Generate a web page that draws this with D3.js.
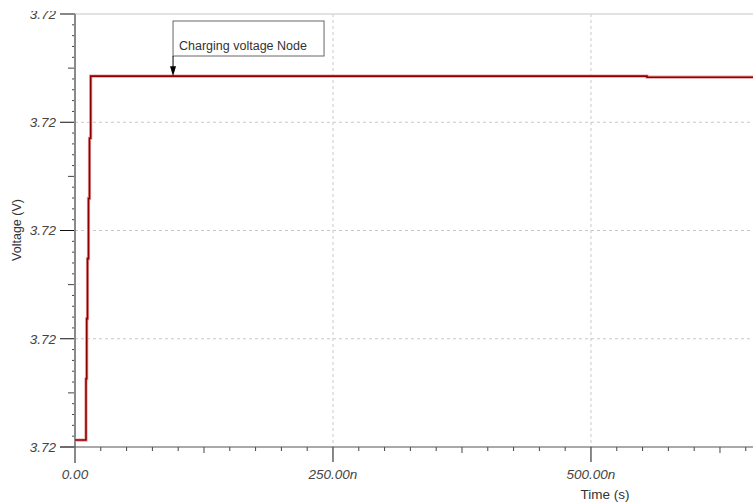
<!DOCTYPE html>
<html><head><meta charset="utf-8">
<script src="https://cdn.jsdelivr.net/npm/d3@7/dist/d3.min.js"></script>
<style>
html,body{margin:0;padding:0;background:#fff;overflow:hidden}
svg{display:block;font-family:"Liberation Sans",Arial,sans-serif}
</style></head><body>
<svg id="c" width="753" height="504"></svg>
<script>
// Data: time in ns, voltage in V
const timeNs   = [0, 10.66, 11.34, 12.11, 13.08, 14.05, 15.21, 554.3, 657];
const voltageV = [3.7200032, 3.7200315, 3.7200593, 3.7200870, 3.7201148, 3.7201426, 3.7201713, 3.7201708, 3.7201708];
const xTickValues = [0, 250, 500];
const xTickLabels = ["0.00", "250.00n", "500.00n"];
const yTickValues = [3.72, 3.72005, 3.7201, 3.72015, 3.7202];
const yTickLabels = ["3.72", "3.72", "3.72", "3.72", "3.72"];
const annotationText = "Charging voltage Node";
const annotationTime = 95;

const svg = d3.select("#c");
const W = 753, H = 504;
const x = d3.scaleLinear().domain([0, 657]).range([75, 753]);
const y = d3.scaleLinear().domain([3.72, 3.7202]).range([447, 14]);

svg.append("defs").append("clipPath").attr("id", "topclip")
  .append("rect").attr("x", 0).attr("y", 11).attr("width", W).attr("height", H);

// grid
const gx = svg.append("g");
xTickValues.slice(1).forEach(v => {
  gx.append("line").attr("x1", x(v)).attr("x2", x(v)).attr("y1", y(3.7202)).attr("y2", y(3.72))
    .attr("stroke", "#c8c8c8").attr("stroke-dasharray", "3,3");
});
yTickValues.slice(1, -1).forEach(v => {
  gx.append("line").attr("x1", x(0)).attr("x2", W).attr("y1", y(v)).attr("y2", y(v))
    .attr("stroke", "#c8c8c8").attr("stroke-dasharray", "3,3");
});
gx.append("line").attr("x1", x(0)).attr("x2", W).attr("y1", y(3.7202)).attr("y2", y(3.7202))
  .attr("stroke", "#d8d8d8").attr("stroke-width", 1.5);

// minor ticks y
const yMinor = d3.range(0, 41).map(i => 3.72 + i * 0.000005);
yMinor.forEach((v, i) => {
  let len = (i % 10 === 0) ? 15 : (i % 5 === 0 ? 7 : 3);
  svg.append("line").attr("x1", x(0) - len).attr("x2", x(0)).attr("y1", y(v)).attr("y2", y(v))
    .attr("stroke", i % 10 === 0 ? "#111" : "#444").attr("stroke-width", 1);
});
// minor ticks x
const xMinor = d3.range(0, 27).map(i => i * 25);
xMinor.forEach((v, i) => {
  let len = (i % 10 === 0) ? 15 : (i % 5 === 0 ? 6 : 4);
  svg.append("line").attr("x1", x(v)).attr("x2", x(v)).attr("y1", y(3.72)).attr("y2", y(3.72) + len)
    .attr("stroke", i % 10 === 0 ? "#111" : "#444").attr("stroke-width", 1);
});

// axis lines
svg.append("line").attr("x1", x(0)).attr("x2", x(0)).attr("y1", y(3.7202)).attr("y2", y(3.72) + 16)
  .attr("stroke", "#8a8a8a").attr("stroke-width", 2);
svg.append("line").attr("x1", x(0) - 15).attr("x2", W).attr("y1", y(3.72)).attr("y2", y(3.72))
  .attr("stroke", "#555").attr("stroke-width", 1.2);

// tick labels
yTickValues.forEach((v, i) => {
  svg.append("text").attr("x", 56).attr("y", y(v)).attr("dy", "0.36em").attr("text-anchor", "end")
    .attr("clip-path", "url(#topclip)")
    .attr("font-size", 13.5).attr("font-style", "italic").attr("fill", "#444").text(yTickLabels[i]);
});
xTickValues.forEach((v, i) => {
  svg.append("text").attr("x", x(v)).attr("y", 479).attr("text-anchor", "middle")
    .attr("font-size", 13.5).attr("font-style", "italic").attr("fill", "#444").text(xTickLabels[i]);
});

// axis titles
svg.append("text").attr("x", 605).attr("y", 499).attr("text-anchor", "middle")
  .attr("font-size", 13.5).attr("fill", "#333").text("Time (s)");
svg.append("text").attr("transform", "translate(21,230) rotate(-90)").attr("text-anchor", "middle")
  .attr("font-size", 12.5).attr("fill", "#333").text("Voltage (V)");

// data line
const pts = timeNs.map((t, i) => [t, voltageV[i]]);
const line = d3.line().x(d => x(d[0])).y(d => y(d[1])).curve(d3.curveStepAfter);
svg.append("path").datum(pts).attr("d", line).attr("fill", "none")
  .attr("stroke", "#e8a0a0").attr("stroke-width", 3.2);
svg.append("path").datum(pts).attr("d", line).attr("fill", "none")
  .attr("stroke", "#8e0000").attr("stroke-width", 1.6);

// annotation
const ax = x(annotationTime), ayv = y(3.7201713);
svg.append("rect").attr("x", ax).attr("y", 21).attr("width", 151).attr("height", 35)
  .attr("fill", "#fff").attr("stroke", "#666").attr("stroke-width", 1);
svg.append("text").attr("x", ax + 6).attr("y", 50).attr("font-size", 12.5).attr("fill", "#333").text(annotationText);
svg.append("line").attr("x1", ax).attr("x2", ax).attr("y1", 56).attr("y2", ayv - 6).attr("stroke", "#000");
svg.append("path").attr("d", `M${ax - 3},${ayv - 10} L${ax + 3},${ayv - 10} L${ax},${ayv} Z`).attr("fill", "#000");
</script>
</body></html>
